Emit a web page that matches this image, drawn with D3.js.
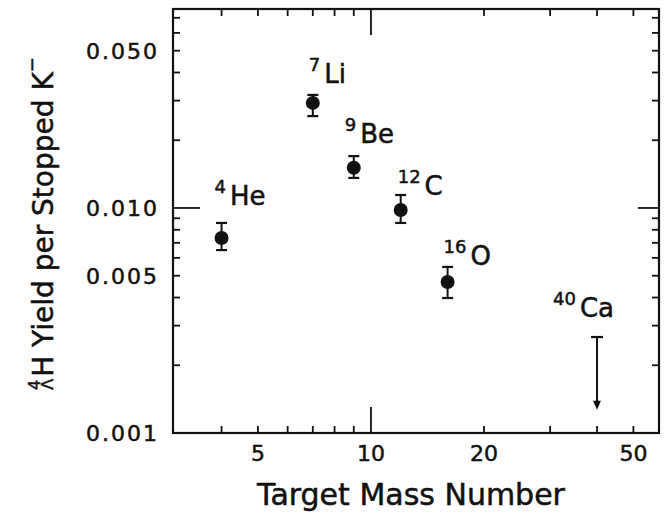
<!DOCTYPE html>
<html>
<head>
<meta charset="utf-8">
<script src="https://cdn.jsdelivr.net/npm/d3@7"></script>
<style>
  body { margin: 0; background: #fff; }
  text { font-family: "DejaVu Sans", sans-serif; fill: #111; stroke: #111; stroke-width: 0.5px; }
</style>
</head>
<body>
<div id="chart"></div>
<script>
// measured points: target mass number vs hypernucleus yield per stopped K-
var massNumber = [4, 7, 9, 12, 16];
var yieldVal   = [0.00736, 0.0293, 0.0151, 0.0098, 0.00469];
var errLow     = [0.0065, 0.0256, 0.0136, 0.00858, 0.00398];
var errHigh    = [0.00858, 0.0318, 0.0170, 0.01142, 0.00547];

// 40Ca upper limit
var limitMass = 40;
var limitVal = 0.00267;
var limitArrowTo = 0.00127;

// labels
var labelMass = ["4", "7", "9", "12", "16", "40"];
var labelSym  = ["He", "Li", "Be", "C", "O", "Ca"];
var labelAt   = [4, 7, 9, 12, 16, 40];

// ticks
var xTickLabels = [5, 10, 20, 50];
var xMinorTicks = [4, 5, 6, 7, 8, 9, 20, 30, 40, 50];
var xMajorTicks = [10];
var yTickLabels = [0.001, 0.005, 0.010, 0.050];
var yMinorTicks = [0.002, 0.003, 0.004, 0.005, 0.006, 0.007, 0.008, 0.009,
                   0.02, 0.03, 0.04, 0.05, 0.06, 0.07];
var yMajorTicks = [0.01];

var margin = { top: 9, right: 5, bottom: 82, left: 173 };
var width = 664 - margin.left - margin.right,
    height = 515 - margin.top - margin.bottom;

var svg = d3.select("#chart")
  .append("svg")
  .attr("width", 664)
  .attr("height", 515)
  .append("g")
  .attr("transform", "translate(" + margin.left + "," + margin.top + ")");

var x = d3.scaleLog().domain([2.97, 58.5]).range([0, width]);
var y = d3.scaleLog().domain([0.001, 0.0766]).range([height, 0]);

// frame
svg.append("rect")
  .attr("width", width).attr("height", height)
  .attr("fill", "none").attr("stroke", "#111").attr("stroke-width", 2.2);

function tickLines(vals, len, lenR) {
  // x ticks, bottom + top
  vals.forEach(function (v) {
    svg.append("line").attr("x1", x(v)).attr("x2", x(v))
      .attr("y1", height).attr("y2", height - len)
      .attr("stroke", "#111").attr("stroke-width", 1.8);
    svg.append("line").attr("x1", x(v)).attr("x2", x(v))
      .attr("y1", 0).attr("y2", lenR)
      .attr("stroke", "#111").attr("stroke-width", 1.8);
  });
}
function yTickLines(vals, len, lenR) {
  vals.forEach(function (v) {
    svg.append("line").attr("x1", 0).attr("x2", len)
      .attr("y1", y(v)).attr("y2", y(v))
      .attr("stroke", "#111").attr("stroke-width", 1.8);
    svg.append("line").attr("x1", width).attr("x2", width - lenR)
      .attr("y1", y(v)).attr("y2", y(v))
      .attr("stroke", "#111").attr("stroke-width", 1.8);
  });
}
tickLines(xMinorTicks, 7, 7);
tickLines(xMajorTicks, 26, 26);
yTickLines(yMinorTicks, 7, 7);
yTickLines(yMajorTicks, 27, 21);

// tick labels
svg.selectAll(".xl")
  .data(xTickLabels)
  .enter()
  .append("text")
  .attr("x", function (d) { return x(d); })
  .attr("y", height + 28)
  .attr("text-anchor", "middle")
  .style("font-size", "22px")
  .text(function (d) { return d; });

svg.selectAll(".yl")
  .data(yTickLabels)
  .enter()
  .append("text")
  .attr("x", -14)
  .attr("y", function (d) { return y(d); })
  .attr("dy", "0.36em")
  .attr("text-anchor", "end")
  .style("font-size", "22px")
  .style("letter-spacing", "2px")
  .text(function (d) { return d3.format(".3f")(d); });

// error bars + markers
massNumber.forEach(function (m, i) {
  var cx = x(m);
  svg.append("line").attr("x1", cx).attr("x2", cx)
    .attr("y1", y(errHigh[i])).attr("y2", y(errLow[i]))
    .attr("stroke", "#111").attr("stroke-width", 2);
  [errHigh[i], errLow[i]].forEach(function (e) {
    svg.append("line").attr("x1", cx - 5.5).attr("x2", cx + 5.5)
      .attr("y1", y(e)).attr("y2", y(e))
      .attr("stroke", "#111").attr("stroke-width", 2.2);
  });
  svg.append("circle").attr("cx", cx).attr("cy", y(yieldVal[i]))
    .attr("r", 7).attr("fill", "#111");
});

// upper limit arrow
var lx = x(limitMass);
svg.append("line").attr("x1", lx).attr("x2", lx)
  .attr("y1", y(limitVal)).attr("y2", y(limitArrowTo) - 6)
  .attr("stroke", "#111").attr("stroke-width", 2);
svg.append("line").attr("x1", lx - 6).attr("x2", lx + 6)
  .attr("y1", y(limitVal)).attr("y2", y(limitVal))
  .attr("stroke", "#111").attr("stroke-width", 2.2);
svg.append("path")
  .attr("d", "M" + (lx - 4) + "," + (y(limitArrowTo) - 9) + "L" + (lx + 4) + "," + (y(limitArrowTo) - 9) +
             "L" + lx + "," + y(limitArrowTo) + "Z")
  .attr("fill", "#111");

// isotope labels, offset from each point
var labelDx = [-7, -4, -9, -3, -4, -44];
var labelYRef = [0.00736, 0.0293, 0.0151, 0.0098, 0.00469, 0.00267];
var labelDy = [-33, -20, -25, -15, -17, -20];
labelSym.forEach(function (s, i) {
  var t = svg.append("text")
    .attr("x", x(labelAt[i]) + labelDx[i])
    .attr("y", y(labelYRef[i]) + labelDy[i]);
  t.append("tspan").style("font-size", "18px").attr("dy", -12).text(labelMass[i]);
  t.append("tspan").style("font-size", "26px").attr("dx", 4).attr("dy", 12).text(s);
});

// axis titles
svg.append("text")
  .attr("x", 411 - margin.left)
  .attr("y", height + 72)
  .attr("text-anchor", "middle")
  .style("font-size", "30px")
  .text("Target Mass Number");

var yt = svg.append("text")
  .attr("transform", "translate(" + (53 - margin.left) + "," + (390 - margin.top) + ") rotate(-90)");
yt.append("tspan").style("font-size", "16px").attr("dy", -13).text("4");
yt.append("tspan").style("font-size", "16px").attr("dx", -10).attr("dy", 13).text("Λ");
yt.append("tspan").style("font-size", "28px").attr("dx", 2).text("H Yield per Stopped K");
yt.append("tspan").style("font-size", "18px").attr("dy", -15).text("−");
</script>
</body>
</html>
